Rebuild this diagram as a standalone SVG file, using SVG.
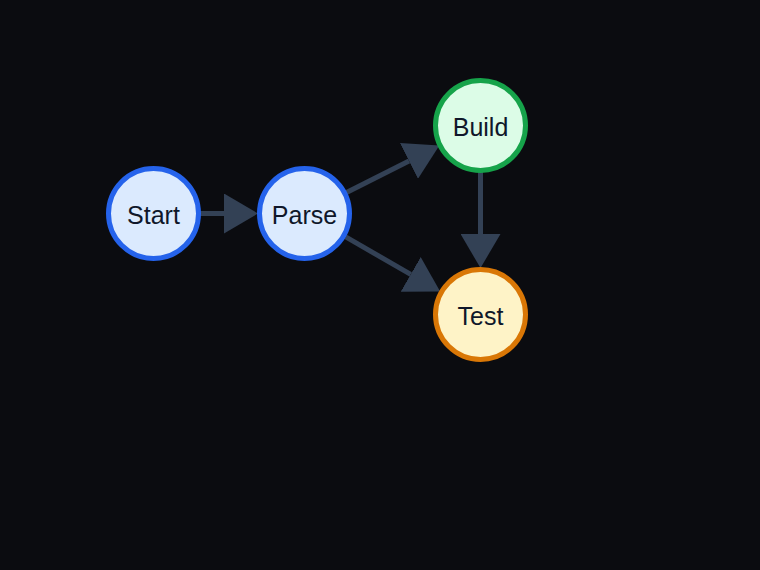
<svg xmlns="http://www.w3.org/2000/svg" width="760" height="570" viewBox="0 0 760 570">
<style>
.edge{stroke:#334155;stroke-width:5;fill:none}
.node circle{stroke-width:5}
.node text{font-family:"Liberation Sans",Arial,sans-serif;font-size:25px;fill:#0f172a;text-anchor:middle}
.blue circle{fill:#dbeafe;stroke:#2563eb}
.green circle{fill:#dcfce7;stroke:#16a34a}
.orange circle{fill:#fef3c7;stroke:#d97706}
</style>
<defs>
<marker id="arrow" markerUnits="userSpaceOnUse" markerWidth="34" markerHeight="40" refX="0" refY="20" orient="auto" viewBox="0 0 34 40">
<path d="M0,0 L34,20 L0,40 z" fill="#334155"/>
</marker>
</defs>
<rect width="760" height="570" fill="#0b0c10"/>
<g id="connectors">
<line class="edge" x1="200" y1="213.5" x2="224" y2="213.5" marker-end="url(#arrow)"/>
<line class="edge" x1="346.5" y1="192.4" x2="409" y2="160.9" marker-end="url(#arrow)"/>
<line class="edge" x1="345.7" y1="236.9" x2="410.7" y2="274.4" marker-end="url(#arrow)"/>
<line class="edge" x1="480.5" y1="172" x2="480.5" y2="234" marker-end="url(#arrow)"/>
</g>
<g id="start" class="node blue"><circle cx="153.5" cy="213.5" r="45"/><text x="153.5" y="224">Start</text></g>
<g id="parse" class="node blue"><circle cx="304.5" cy="213.5" r="45"/><text x="304.5" y="224">Parse</text></g>
<g id="build" class="node green"><circle cx="480.5" cy="125.5" r="45"/><text x="480.5" y="136">Build</text></g>
<g id="test" class="node orange"><circle cx="480.5" cy="314.5" r="45"/><text x="480.5" y="325">Test</text></g>
</svg>
